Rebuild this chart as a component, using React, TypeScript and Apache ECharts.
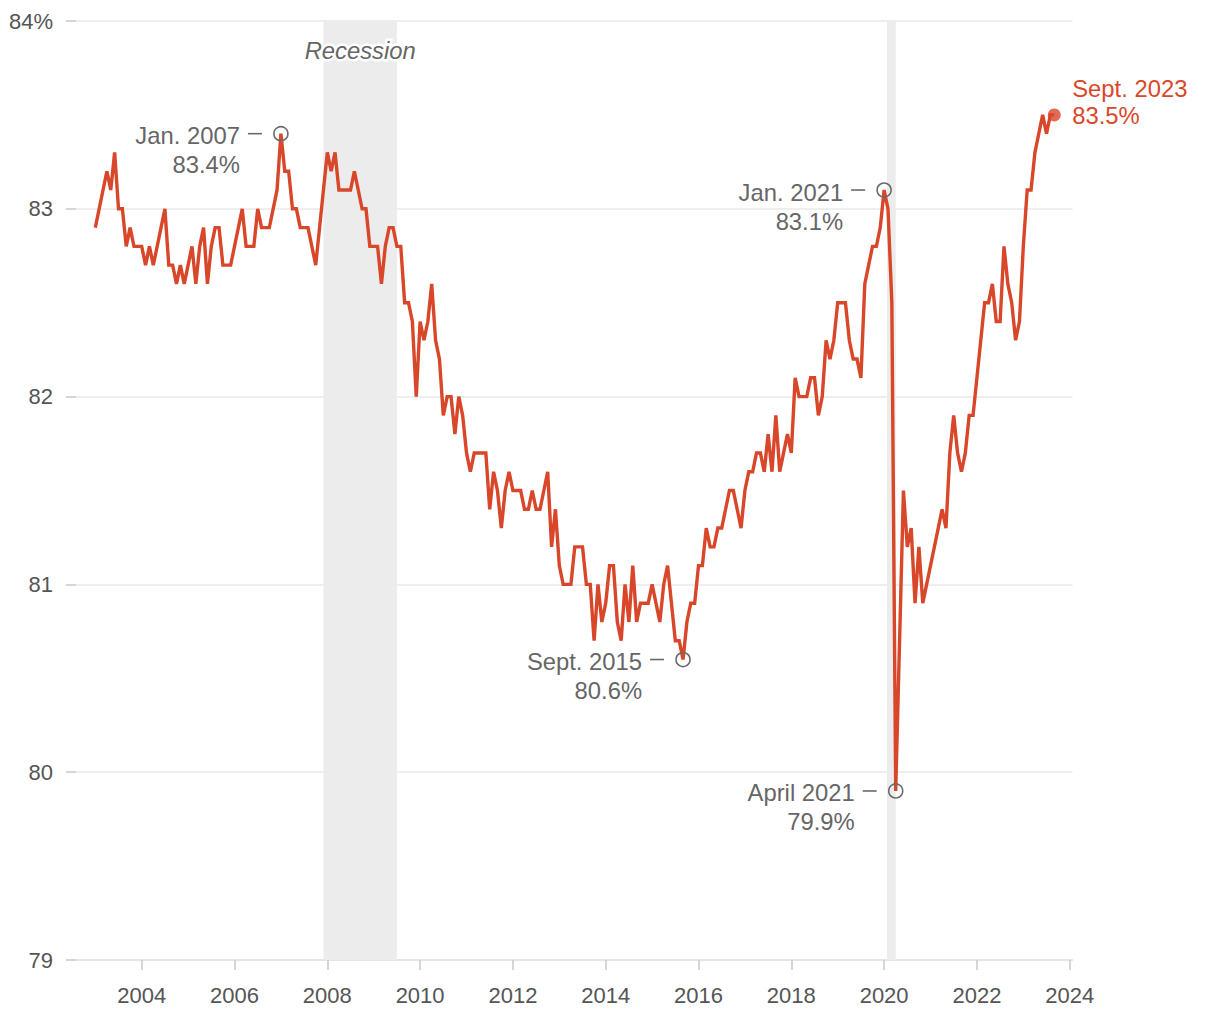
import React, { useEffect, useRef } from "react";
import * as echarts from "echarts";

// Monthly prime-age participation rate (%), Jan 2003 – Sept 2023
const v2003 = [82.9, 83.0, 83.1, 83.2, 83.1, 83.3, 83.0, 83.0, 82.8, 82.9, 82.8, 82.8];
const v2004 = [82.8, 82.7, 82.8, 82.7, 82.8, 82.9, 83.0, 82.7, 82.7, 82.6, 82.7, 82.6];
const v2005 = [82.7, 82.8, 82.6, 82.8, 82.9, 82.6, 82.8, 82.9, 82.9, 82.7, 82.7, 82.7];
const v2006 = [82.8, 82.9, 83.0, 82.8, 82.8, 82.8, 83.0, 82.9, 82.9, 82.9, 83.0, 83.1];
const v2007 = [83.4, 83.2, 83.2, 83.0, 83.0, 82.9, 82.9, 82.9, 82.8, 82.7, 82.9, 83.1];
const v2008 = [83.3, 83.2, 83.3, 83.1, 83.1, 83.1, 83.1, 83.2, 83.1, 83.0, 83.0, 82.8];
const v2009 = [82.8, 82.8, 82.6, 82.8, 82.9, 82.9, 82.8, 82.8, 82.5, 82.5, 82.4, 82.0];
const v2010 = [82.4, 82.3, 82.4, 82.6, 82.3, 82.2, 81.9, 82.0, 82.0, 81.8, 82.0, 81.9];
const v2011 = [81.7, 81.6, 81.7, 81.7, 81.7, 81.7, 81.4, 81.6, 81.5, 81.3, 81.5, 81.6];
const v2012 = [81.5, 81.5, 81.5, 81.4, 81.4, 81.5, 81.4, 81.4, 81.5, 81.6, 81.2, 81.4];
const v2013 = [81.1, 81.0, 81.0, 81.0, 81.2, 81.2, 81.2, 81.0, 81.0, 80.7, 81.0, 80.8];
const v2014 = [80.9, 81.1, 81.1, 80.8, 80.7, 81.0, 80.8, 81.1, 80.8, 80.9, 80.9, 80.9];
const v2015 = [81.0, 80.9, 80.8, 81.0, 81.1, 80.9, 80.7, 80.7, 80.6, 80.8, 80.9, 80.9];
const v2016 = [81.1, 81.1, 81.3, 81.2, 81.2, 81.3, 81.3, 81.4, 81.5, 81.5, 81.4, 81.3];
const v2017 = [81.5, 81.6, 81.6, 81.7, 81.7, 81.6, 81.8, 81.6, 81.9, 81.6, 81.7, 81.8];
const v2018 = [81.7, 82.1, 82.0, 82.0, 82.0, 82.1, 82.1, 81.9, 82.0, 82.3, 82.2, 82.3];
const v2019 = [82.5, 82.5, 82.5, 82.3, 82.2, 82.2, 82.1, 82.6, 82.7, 82.8, 82.8, 82.9];
const v2020 = [83.1, 83.0, 82.5, 79.9, 80.7, 81.5, 81.2, 81.3, 80.9, 81.2, 80.9, 81.0];
const v2021 = [81.1, 81.2, 81.3, 81.4, 81.3, 81.7, 81.9, 81.7, 81.6, 81.7, 81.9, 81.9];
const v2022 = [82.1, 82.3, 82.5, 82.5, 82.6, 82.4, 82.4, 82.8, 82.6, 82.5, 82.3, 82.4];
const v2023 = [82.8, 83.1, 83.1, 83.3, 83.4, 83.5, 83.4, 83.5, 83.5];

const yearlyValues = [
  v2003, v2004, v2005, v2006, v2007, v2008, v2009, v2010, v2011, v2012, v2013,
  v2014, v2015, v2016, v2017, v2018, v2019, v2020, v2021, v2022, v2023,
];
const firstYear = 2003;

const xTickYears = [2004, 2006, 2008, 2010, 2012, 2014, 2016, 2018, 2020, 2022, 2024];
const yTicks = [79, 80, 81, 82, 83, 84];

// Recessions: [start, end] in decimal years
const recessions = [
  [2007 + 11 / 12, 2009.5],
  [2020 + 0.75 / 12, 2020 + 3 / 12],
];
const recessionLabel = "Recession";

// Annotated points (text kept as printed in the original)
const annotations = [
  { date: 2007 + 0 / 12, value: 83.4, line1: "Jan. 2007", line2: "83.4%" },
  { date: 2015 + 8 / 12, value: 80.6, line1: "Sept. 2015", line2: "80.6%" },
  { date: 2020 + 0 / 12, value: 83.1, line1: "Jan. 2021", line2: "83.1%" },
  { date: 2020 + 3 / 12, value: 79.9, line1: "April 2021", line2: "79.9%" },
];
const lastLabel = { line1: "Sept. 2023", line2: "83.5%" };

const RED = "#d9472b";
const GRAY_TEXT = "#666666";
const FONT = '"Liberation Sans", Arial, Helvetica, sans-serif';

export default function App() {
  const ref = useRef<HTMLDivElement>(null);

  useEffect(() => {
    if (!ref.current) return;
    const chart = echarts.init(ref.current, undefined, { renderer: "svg" });

    const seriesData: [number, number][] = [];
    yearlyValues.forEach((arr, yi) => {
      arr.forEach((v, mi) => {
        seriesData.push([firstYear + yi + mi / 12, v]);
      });
    });
    const last = seriesData[seriesData.length - 1];

    const option: any = {
      animation: false,
      textStyle: { fontFamily: FONT },
      grid: { left: 76, top: 21, width: 996.5, height: 939 },
      xAxis: {
        type: "value",
        min: 2002.584,
        max: 2024.06,
        axisLine: { show: true, lineStyle: { color: "#e2e2e2", width: 1.5 } },
        axisTick: {
          show: true,
          length: 10,
          customValues: xTickYears,
          lineStyle: { color: "#c8c8c8", width: 1.5 },
        },
        axisLabel: {
          customValues: xTickYears,
          margin: 24,
          fontSize: 22,
          color: "#555555",
          fontFamily: FONT,
          formatter: (v: number) => String(Math.round(v)),
        },
        splitLine: { show: false },
      },
      yAxis: {
        type: "value",
        min: 79,
        max: 84,
        interval: 1,
        axisLine: { show: false },
        axisTick: { show: true, length: 10, lineStyle: { color: "#c8c8c8", width: 1.5 } },
        axisLabel: {
          margin: 23,
          fontSize: 22,
          color: "#555555",
          fontFamily: FONT,
          formatter: (v: number) => (v === yTicks[yTicks.length - 1] ? `${v}%` : String(v)),
        },
        splitLine: { show: true, lineStyle: { color: "#e8e8e8", width: 1.5 } },
      },
      series: [
        {
          type: "line",
          data: seriesData,
          showSymbol: false,
          symbol: "none",
          lineStyle: { color: RED, width: 3.4, join: "miter" },
          z: 3,
          markArea: {
            silent: true,
            itemStyle: { color: "#ececec" },
            data: recessions.map(([a, b]) => [{ xAxis: a }, { xAxis: b }]),
          },
        },
        {
          type: "scatter",
          data: [last],
          symbolSize: 13,
          itemStyle: { color: RED },
          z: 5,
        },
      ],
    };
    chart.setOption(option);

    const toPx = (x: number, y: number) =>
      chart.convertToPixel({ xAxisIndex: 0, yAxisIndex: 0 }, [x, y]) as number[];

    const graphics: any[] = [];
    const haloText = (x: number, y: number, text: string, align: string, color: string, italic = false) => {
      const font = `${italic ? "italic " : ""}23.8px ${FONT}`;
      graphics.push({
        type: "text",
        x,
        y,
        z: 20,
        style: { text, align, verticalAlign: "middle", font, fill: "#ffffff", stroke: "#ffffff", lineWidth: 5 },
      });
      graphics.push({
        type: "text",
        x,
        y,
        z: 21,
        style: { text, align, verticalAlign: "middle", font, fill: color },
      });
    };

    annotations.forEach((a) => {
      const [cx, cy] = toPx(a.date, a.value);
      graphics.push({
        type: "circle",
        z: 22,
        shape: { cx, cy, r: 7 },
        style: { fill: "none", stroke: "#6a6a6a", lineWidth: 1.6 },
      });
      graphics.push({
        type: "line",
        z: 22,
        shape: { x1: cx - 33, y1: cy, x2: cx - 19, y2: cy },
        style: { stroke: "#6a6a6a", lineWidth: 1.6 },
      });
      haloText(cx - 41, cy + 2, a.line1, "right", GRAY_TEXT);
      haloText(cx - 41, cy + 31, a.line2, "right", GRAY_TEXT);
    });

    // Last-point label
    {
      const [cx, cy] = toPx(last[0], last[1]);
      haloText(cx + 18, cy - 26, lastLabel.line1, "left", RED);
      haloText(cx + 18, cy + 1, lastLabel.line2, "left", RED);
    }

    // Recession label on first band
    {
      const [x1, yTop] = toPx(recessions[0][0], 84);
      const [x2] = toPx(recessions[0][1], 84);
      haloText((x1 + x2) / 2, yTop + 29, recessionLabel, "center", GRAY_TEXT, true);
    }

    chart.setOption({ graphic: graphics });

    return () => chart.dispose();
  }, []);

  return (
    <div
      ref={ref}
      style={{ position: "fixed", left: 0, top: 0, width: 1220, height: 1020, background: "#ffffff" }}
    />
  );
}
